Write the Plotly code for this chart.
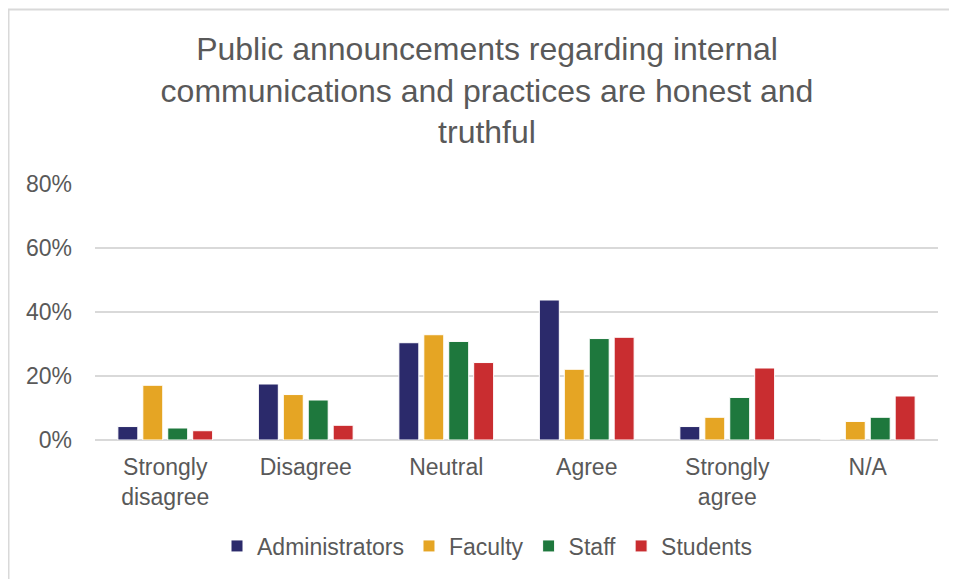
import plotly.graph_objects as go

# Survey data (share of respondents)
categories = ["Strongly<br>disagree", "Disagree", "Neutral", "Agree", "Strongly<br>agree", "N/A"]
administrators = [0.042, 0.175, 0.304, 0.4375, 0.042, 0.0]
faculty = [0.171, 0.142, 0.329, 0.221, 0.071, 0.058]
staff = [0.0375, 0.125, 0.308, 0.317, 0.133, 0.071]
students = [0.029, 0.046, 0.242, 0.321, 0.225, 0.1375]

series = [
    ("Administrators", administrators, "#2B2A6B"),
    ("Faculty", faculty, "#E5A524"),
    ("Staff", staff, "#1E783D"),
    ("Students", students, "#C92D30"),
]

W, H = 957, 579
# page is offset by the 8px body margin
ML, MR, MT, MB = 87, 27, 176, 147
pw = W - ML - MR
ph = H - MT - MB

fig = go.Figure()
for name, vals, col in series:
    fig.add_trace(go.Bar(
        name=name, x=categories, y=vals,
        marker=dict(color=col, line=dict(color="white", width=1)),
    ))

# light grey frame around the chart area
fig.add_shape(type="rect", xref="paper", yref="paper",
              x0=(0.5 - ML) / pw, x1=(W + 20 - ML) / pw,
              y0=-(MB + 20) / ph, y1=(H - MB - 1.5) / ph,
              fillcolor="white", line=dict(color="#D9D9D9", width=2), layer="below")

fig.update_layout(
    width=W, height=H,
    margin=dict(l=ML, r=MR, t=MT, b=MB, autoexpand=False),
    paper_bgcolor="white", plot_bgcolor="white",
    font=dict(family="Liberation Sans, Arial, sans-serif", size=23, color="#595959"),
    title=dict(
        text="Public announcements regarding internal<br>communications and practices are honest and<br>truthful",
        font=dict(size=32, color="#595959"),
        x=479 / W, xanchor="center", xref="container",
        y=1 - 52 / H, yanchor="top", yref="container",
    ),
    barmode="group", bargap=0.29, bargroupgap=0.2,
    xaxis=dict(showgrid=False, showline=False, ticks="", tickangle=0,
               ticklabelstandoff=11, automargin=False, tickfont=dict(size=23)),
    yaxis=dict(range=[0, 0.8], dtick=0.2, tickformat=".0%", showgrid=True,
               gridcolor="#D9D9D9", gridwidth=1.5, zeroline=True, zerolinecolor="#D9D9D9",
               zerolinewidth=1.5, showline=False, ticklabelstandoff=22,
               automargin=False, tickfont=dict(size=23)),
    legend=dict(orientation="h", x=(479 - ML) / pw, xanchor="center",
                y=(H - MB - 538) / ph, yanchor="middle", font=dict(size=23),
                itemwidth=30, bgcolor="rgba(0,0,0,0)"),
)

fig.write_html("out.html")
